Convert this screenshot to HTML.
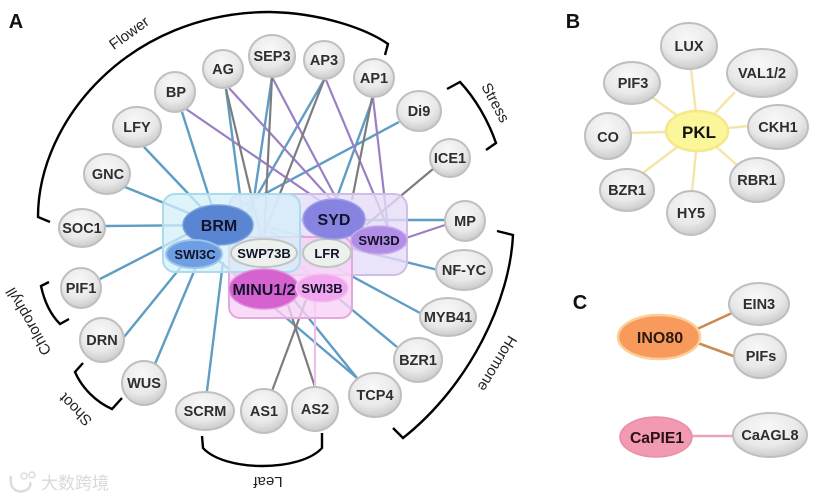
<!DOCTYPE html>
<html>
<head>
<meta charset="utf-8">
<style>
html,body{margin:0;padding:0;background:#fff;width:828px;height:498px;overflow:hidden}
svg{display:block}
text{font-family:"Liberation Sans","Noto Sans CJK SC",sans-serif;font-weight:bold;text-anchor:middle}
.n ellipse{fill:url(#g);stroke:#bfbfbf;stroke-width:2}
.n text{font-size:14.5px;fill:#2e2e30}
.h text{font-size:13px;fill:#12122a}
.b line{stroke:#5f9dc4;stroke-width:2.4}
.p line{stroke:#9a7fc4;stroke-width:2.2}
.y line{stroke:#7d7d80;stroke-width:2.2}
.br{fill:none;stroke:#000;stroke-width:2.4;stroke-linejoin:miter}
.l{font-size:15px;font-weight:normal;fill:#222;-webkit-text-stroke:.3px #222}
.panel{font-size:20px;fill:#111}
</style>
</head>
<body>
<svg width="828" height="498" viewBox="0 0 828 498" xmlns="http://www.w3.org/2000/svg">
<defs>
<radialGradient id="g" cx="45%" cy="32%" r="72%">
<stop offset="0" stop-color="#f8f8f8"/><stop offset=".6" stop-color="#e9e9e9"/><stop offset="1" stop-color="#c6c6c6"/>
</radialGradient>
</defs>

<text class="panel" x="16" y="28">A</text>
<text class="panel" x="573" y="28">B</text>
<text class="panel" x="580" y="309">C</text>

<!-- brackets -->
<path class="br" d="M50 222 L38 217 C38 120 130 12 270 12 C320 13 365 28 388 44 L385 55"/>
<path class="br" d="M447 89 L460 82 C475 98 488 120 496 143 L486 150"/>
<path class="br" d="M497 231 L513 235 C510 300 470 385 403 438 L393 428"/>
<path class="br" d="M202 436 L203 448 C225 472 300 472 322 448 L322 433"/>
<path class="br" d="M49 282 L41 286 C44 300 50 314 60 324 L69 319"/>
<path class="br" d="M83 363 L75 372 C82 388 96 402 112 409 L122 398"/>

<text class="l" transform="translate(132,37) rotate(-36)">Flower</text>
<text class="l" transform="translate(491,105) rotate(62)">Stress</text>
<text class="l" transform="translate(493,361) rotate(121)">Hormone</text>
<text class="l" transform="translate(268,477) rotate(180)">Leaf</text>
<text class="l" transform="translate(33,319) rotate(240)">Chlorophyll</text>
<text class="l" transform="translate(79,406) rotate(225)">Shoot</text>

<!-- edges -->
<g class="b">
<line x1="105" y1="226" x2="218" y2="225"/>
<line x1="125" y1="187" x2="218" y2="225"/>
<line x1="144" y1="147" x2="218" y2="225"/>
<line x1="182" y1="112" x2="218" y2="225"/>
<line x1="226" y1="89" x2="244" y2="225"/>
<line x1="272" y1="77" x2="250" y2="225"/>
<line x1="324" y1="80" x2="240" y2="225"/>
<line x1="373" y1="98" x2="336" y2="200"/>
<line x1="399" y1="122" x2="225" y2="215"/>
<line x1="300" y1="220" x2="445" y2="220"/>
<line x1="270" y1="228" x2="438" y2="270"/>
<line x1="270" y1="232" x2="420" y2="313"/>
<line x1="290" y1="258" x2="397" y2="347"/>
<line x1="218" y1="260" x2="357" y2="378"/>
<line x1="294" y1="300" x2="357" y2="378"/>
<line x1="100" y1="279" x2="205" y2="225"/>
<line x1="124" y1="337" x2="185" y2="262"/>
<line x1="155" y1="364" x2="198" y2="262"/>
<line x1="207" y1="391" x2="223" y2="262"/>
</g>
<g class="p">
<line x1="186" y1="109" x2="326" y2="205"/>
<line x1="229" y1="88" x2="336" y2="205"/>
<line x1="272" y1="77" x2="345" y2="215"/>
<line x1="326" y1="80" x2="388" y2="228"/>
<line x1="373" y1="98" x2="388" y2="228"/>
<line x1="445" y1="225" x2="400" y2="240"/>
</g>
<g class="y">
<line x1="226" y1="89" x2="262" y2="240"/>
<line x1="272" y1="77" x2="264" y2="240"/>
<line x1="324" y1="80" x2="262" y2="240"/>
<line x1="372" y1="98" x2="352" y2="200"/>
<line x1="433" y1="169" x2="366" y2="225"/>
<line x1="272" y1="391" x2="306" y2="300"/>
<line x1="315" y1="387" x2="288" y2="305"/>
</g>
<line x1="315" y1="387" x2="315" y2="290" stroke="#eebfe8" stroke-width="2.2"/>

<!-- group boxes -->
<rect x="229" y="194" width="178" height="81" rx="13" fill="#e6dcf8" fill-opacity=".8" stroke="#cdbfe8" stroke-width="2"/>
<rect x="229" y="237" width="123" height="81" rx="11" fill="#f8d2f5" fill-opacity=".8" stroke="#e3a9dc" stroke-width="2"/>
<rect x="163" y="194" width="137" height="78" rx="12" fill="#d4eff9" fill-opacity=".75" stroke="#a9dcee" stroke-width="2"/>

<!-- hubs -->
<g class="h">
<ellipse cx="218" cy="225" rx="35" ry="20" fill="#5a85d2" stroke="#7aa2dc" stroke-width="1.5"/>
<text x="219" y="231" style="font-size:16px">BRM</text>
<ellipse cx="194" cy="254" rx="28" ry="14" fill="#6e9fe2" stroke="#9cc6ee" stroke-width="2"/>
<text x="195" y="259">SWI3C</text>
<ellipse cx="264" cy="253" rx="33" ry="14" fill="#edf1ee" stroke="#bfc6c2" stroke-width="2"/>
<text x="264" y="258">SWP73B</text>
<ellipse cx="327" cy="253" rx="24" ry="14" fill="#edf1ee" stroke="#bfc6c2" stroke-width="2"/>
<text x="327" y="258">LFR</text>
<ellipse cx="334" cy="219" rx="31" ry="20" fill="#8684e0" stroke="#a2a0e8" stroke-width="1.5"/>
<text x="334" y="225" style="font-size:16px">SYD</text>
<ellipse cx="379" cy="240" rx="28" ry="14" fill="#b28de6" stroke="#c6aaec" stroke-width="1.5"/>
<text x="379" y="245">SWI3D</text>
<ellipse cx="264" cy="289" rx="35" ry="20" fill="#d562cf" stroke="#e493de" stroke-width="1.5"/>
<ellipse cx="322" cy="288" rx="26" ry="14" fill="#f2a6f0" stroke="#f4c0f0" stroke-width="1.5"/>
<text x="264" y="295" style="font-size:16px">MINU1/2</text>
<text x="322" y="293">SWI3B</text>
</g>

<!-- A nodes -->
<g class="n">
<ellipse cx="223" cy="69" rx="20" ry="19"/><text x="223" y="74">AG</text>
<ellipse cx="272" cy="56" rx="23" ry="21"/><text x="272" y="61">SEP3</text>
<ellipse cx="324" cy="60" rx="20" ry="19"/><text x="324" y="65">AP3</text>
<ellipse cx="374" cy="78" rx="20" ry="19"/><text x="374" y="83">AP1</text>
<ellipse cx="419" cy="111" rx="22" ry="20"/><text x="419" y="116">Di9</text>
<ellipse cx="450" cy="158" rx="20" ry="19"/><text x="450" y="163">ICE1</text>
<ellipse cx="465" cy="221" rx="20" ry="20"/><text x="465" y="226">MP</text>
<ellipse cx="464" cy="270" rx="28" ry="20"/><text x="464" y="275">NF-YC</text>
<ellipse cx="448" cy="317" rx="28" ry="19"/><text x="448" y="322">MYB41</text>
<ellipse cx="418" cy="360" rx="24" ry="22"/><text x="418" y="365">BZR1</text>
<ellipse cx="375" cy="395" rx="26" ry="22"/><text x="375" y="400">TCP4</text>
<ellipse cx="315" cy="409" rx="23" ry="22"/><text x="315" y="414">AS2</text>
<ellipse cx="264" cy="411" rx="23" ry="22"/><text x="264" y="416">AS1</text>
<ellipse cx="205" cy="411" rx="29" ry="19"/><text x="205" y="416">SCRM</text>
<ellipse cx="144" cy="383" rx="22" ry="22"/><text x="144" y="388">WUS</text>
<ellipse cx="102" cy="340" rx="22" ry="22"/><text x="102" y="345">DRN</text>
<ellipse cx="81" cy="288" rx="20" ry="20"/><text x="81" y="293">PIF1</text>
<ellipse cx="82" cy="228" rx="23" ry="19"/><text x="82" y="233">SOC1</text>
<ellipse cx="107" cy="174" rx="23" ry="20"/><text x="108" y="179">GNC</text>
<ellipse cx="137" cy="127" rx="24" ry="20"/><text x="137" y="132">LFY</text>
<ellipse cx="175" cy="92" rx="20" ry="20"/><text x="176" y="97">BP</text>
</g>

<!-- Panel B -->
<g stroke="#f4e6a8" stroke-width="2.4">
<line x1="698" y1="131" x2="691" y2="69"/>
<line x1="698" y1="131" x2="735" y2="92"/>
<line x1="698" y1="131" x2="748" y2="126"/>
<line x1="698" y1="131" x2="737" y2="165"/>
<line x1="698" y1="131" x2="692" y2="192"/>
<line x1="698" y1="131" x2="643" y2="173"/>
<line x1="698" y1="131" x2="631" y2="133"/>
<line x1="698" y1="131" x2="652" y2="97"/>
</g>
<g class="n">
<ellipse cx="689" cy="46" rx="28" ry="23"/><text x="689" y="51">LUX</text>
<ellipse cx="762" cy="73" rx="35" ry="24"/><text x="762" y="78">VAL1/2</text>
<ellipse cx="778" cy="127" rx="30" ry="22"/><text x="778" y="132">CKH1</text>
<ellipse cx="757" cy="180" rx="27" ry="22"/><text x="757" y="185">RBR1</text>
<ellipse cx="691" cy="213" rx="24" ry="22"/><text x="691" y="218">HY5</text>
<ellipse cx="627" cy="190" rx="27" ry="21"/><text x="627" y="195">BZR1</text>
<ellipse cx="608" cy="136" rx="23" ry="23"/><text x="608" y="142">CO</text>
<ellipse cx="632" cy="83" rx="28" ry="21"/><text x="633" y="88">PIF3</text>
</g>
<ellipse cx="697" cy="131" rx="31" ry="20" fill="#fbf69a" stroke="#f5e78a" stroke-width="2.5"/>
<text x="699" y="138" style="font-size:17px;fill:#111">PKL</text>

<!-- Panel C -->
<line x1="695" y1="330" x2="732" y2="313" stroke="#c98b54" stroke-width="2.6"/>
<line x1="695" y1="342" x2="736" y2="357" stroke="#c98b54" stroke-width="2.6"/>
<line x1="690" y1="436" x2="735" y2="436" stroke="#e9a4b6" stroke-width="2.6"/>
<g class="n">
<ellipse cx="759" cy="304" rx="30" ry="21"/><text x="759" y="309">EIN3</text>
<ellipse cx="760" cy="356" rx="26" ry="22"/><text x="761" y="361">PIFs</text>
<ellipse cx="770" cy="435" rx="37" ry="22"/><text x="770" y="440">CaAGL8</text>
</g>
<ellipse cx="659" cy="337" rx="41" ry="22" fill="#f89a5c" stroke="#fbcf9a" stroke-width="2.5"/>
<text x="660" y="343" style="font-size:16px;fill:#2a1a12">INO80</text>
<ellipse cx="656" cy="437" rx="36" ry="20" fill="#f29ab2" stroke="#e88ea8" stroke-width="1.5"/>
<text x="657" y="443" style="font-size:15.7px;fill:#2a1018">CaPIE1</text>

<!-- watermark -->
<path d="M11 476 C9 488 16 493 24 491 C30 489 31 485 30 482" fill="none" stroke="#dcdcdc" stroke-width="2.5"/>
<circle cx="24" cy="476" r="3" fill="none" stroke="#dcdcdc" stroke-width="1.5"/>
<circle cx="32" cy="475" r="3" fill="none" stroke="#dcdcdc" stroke-width="1.5"/>
<text x="75" y="489" style="font-size:17px;fill:#d9d9d9;font-weight:normal">大数跨境</text>
</svg>
</body>
</html>
